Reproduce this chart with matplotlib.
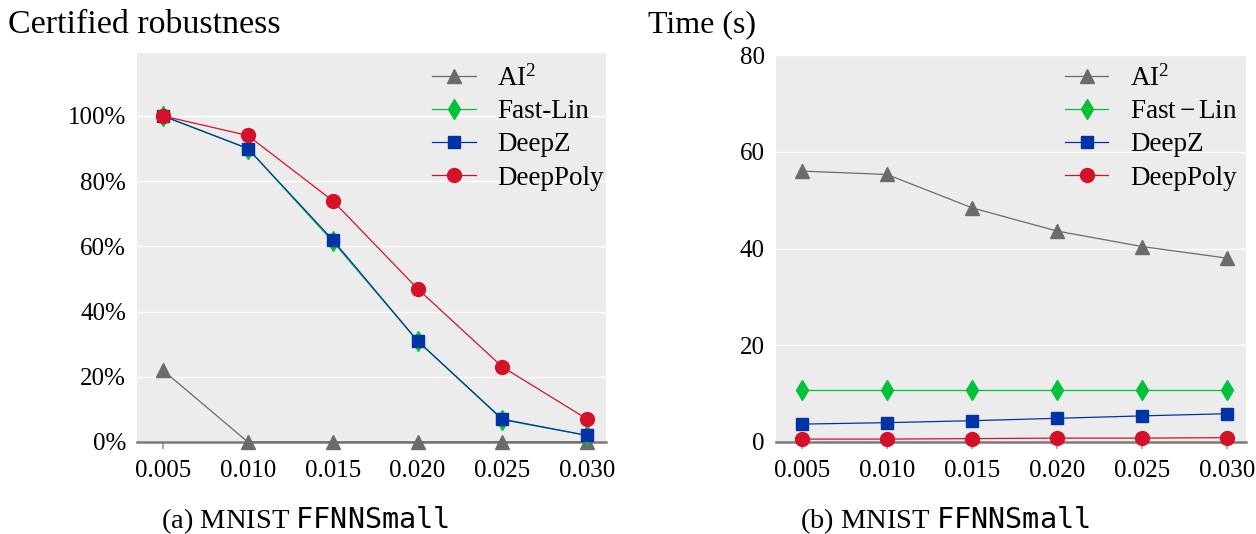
import matplotlib
matplotlib.use('Agg')
import matplotlib.pyplot as plt
import numpy as np

plt.rcParams['font.family'] = ['Liberation Serif', 'DejaVu Serif']
plt.rcParams['mathtext.fontset'] = 'custom'
plt.rcParams['mathtext.rm'] = 'Liberation Serif'
plt.rcParams['mathtext.it'] = 'Liberation Serif:italic'
plt.rcParams['mathtext.tt'] = 'DejaVu Sans Mono'

# epsilon values shared by both panels
eps = [0.005, 0.010, 0.015, 0.020, 0.025, 0.030]
eps_labels = ['0.005', '0.010', '0.015', '0.020', '0.025', '0.030']

# certified robustness (%)
rob_ai2 = [22, 0, 0, 0, 0, 0]
rob_fastlin = [100, 90, 61.5, 31, 6.8, 2]
rob_deepz = [100, 90, 62, 31, 7, 2]
rob_deeppoly = [100, 94, 74, 47, 23, 7]

# runtime (s)
time_ai2 = [56.0, 55.3, 48.4, 43.6, 40.4, 38.0]
time_fastlin = [10.7, 10.7, 10.7, 10.7, 10.7, 10.7]
time_deepz = [3.7, 4.0, 4.4, 4.9, 5.4, 5.85]
time_deeppoly = [0.6, 0.6, 0.7, 0.8, 0.8, 0.9]

c_gray = '#6b6b6b'
c_green = '#00c23a'
c_blue = '#0033a6'
c_red = '#d5112a'
bg = '#ececec'

W, H = 1256, 534
fig = plt.figure(figsize=(W / 100, H / 100), dpi=100)


def px_axes(x0, y0, x1, y1):
    # axes box given in pixel corners (top-left origin)
    return fig.add_axes((x0 / W, 1 - y1 / H, (x1 - x0) / W, (y1 - y0) / H))


def style_axes(ax):
    ax.set_facecolor(bg)
    for s in ['top', 'right', 'left']:
        ax.spines[s].set_visible(False)
    ax.spines['bottom'].set_color('#7a7a7a')
    ax.spines['bottom'].set_linewidth(1.8)
    ax.grid(axis='y', color='white', linewidth=1.0)
    ax.set_axisbelow(True)
    ax.tick_params(axis='y', length=0, labelsize=18, pad=8)
    ax.tick_params(axis='x', length=5, width=1.2, color='#9a9a9a', labelsize=18, pad=8)
    ax.set_xticks(eps)
    ax.set_xticklabels(eps_labels)
    ax.set_xlim(0.00347, 0.0311)


def draw_series(ax, ys, labels):
    styles = [(c_gray, '^', 10), (c_green, 'd', 10.5), (c_blue, 's', 8.5), (c_red, 'o', 10)]
    for y, lab, (c, m, ms) in zip(ys, labels, styles):
        ax.plot(eps, y, color=c, marker=m, markersize=ms, linewidth=0.9,
                label=lab, clip_on=False, zorder=3)


def add_legend(ax, x, y):
    ax.legend(loc='upper left', bbox_to_anchor=(x, y), frameon=False,
              fontsize=19.5, handlelength=1.6, handletextpad=0.8, labelspacing=0.3,
              borderpad=0, borderaxespad=0)


# left panel: certified robustness
ax1 = px_axes(137, 53, 606, 442)
style_axes(ax1)
draw_series(ax1, [rob_ai2, rob_fastlin, rob_deepz, rob_deeppoly],
            ['AI$^2$', 'Fast-Lin', 'DeepZ', 'DeepPoly'])
ax1.set_ylim(0, 119.3)
ax1.set_yticks([0, 20, 40, 60, 80, 100])
ax1.set_yticklabels(['0%', '20%', '40%', '60%', '80%', '100%'])
add_legend(ax1, 0.63, 0.97)

# right panel: runtime
ax2 = px_axes(776, 55, 1246, 442)
style_axes(ax2)
draw_series(ax2, [time_ai2, time_fastlin, time_deepz, time_deeppoly],
            ['AI$^2$', r'$\mathrm{Fast-Lin}$', 'DeepZ', 'DeepPoly'])
ax2.set_ylim(0, 80)
ax2.set_yticks([0, 20, 40, 60, 80])
add_legend(ax2, 0.615, 0.975)

# panel titles and captions
fig.text(8 / W, 1 - 25 / H, 'Certified robustness', fontsize=24.5, ha='left', va='center')
fig.text(648 / W, 1 - 25 / H, 'Time (s)', fontsize=23, ha='left', va='center')
fig.text(305 / W, 1 - 520 / H, r'(a) MNIST $\mathtt{FFNNSmall}$', fontsize=20.5,
         ha='center', va='center')
fig.text(945 / W, 1 - 520 / H, r'(b) MNIST $\mathtt{FFNNSmall}$', fontsize=20.5,
         ha='center', va='center')

fig.savefig('out.png', dpi=100)
